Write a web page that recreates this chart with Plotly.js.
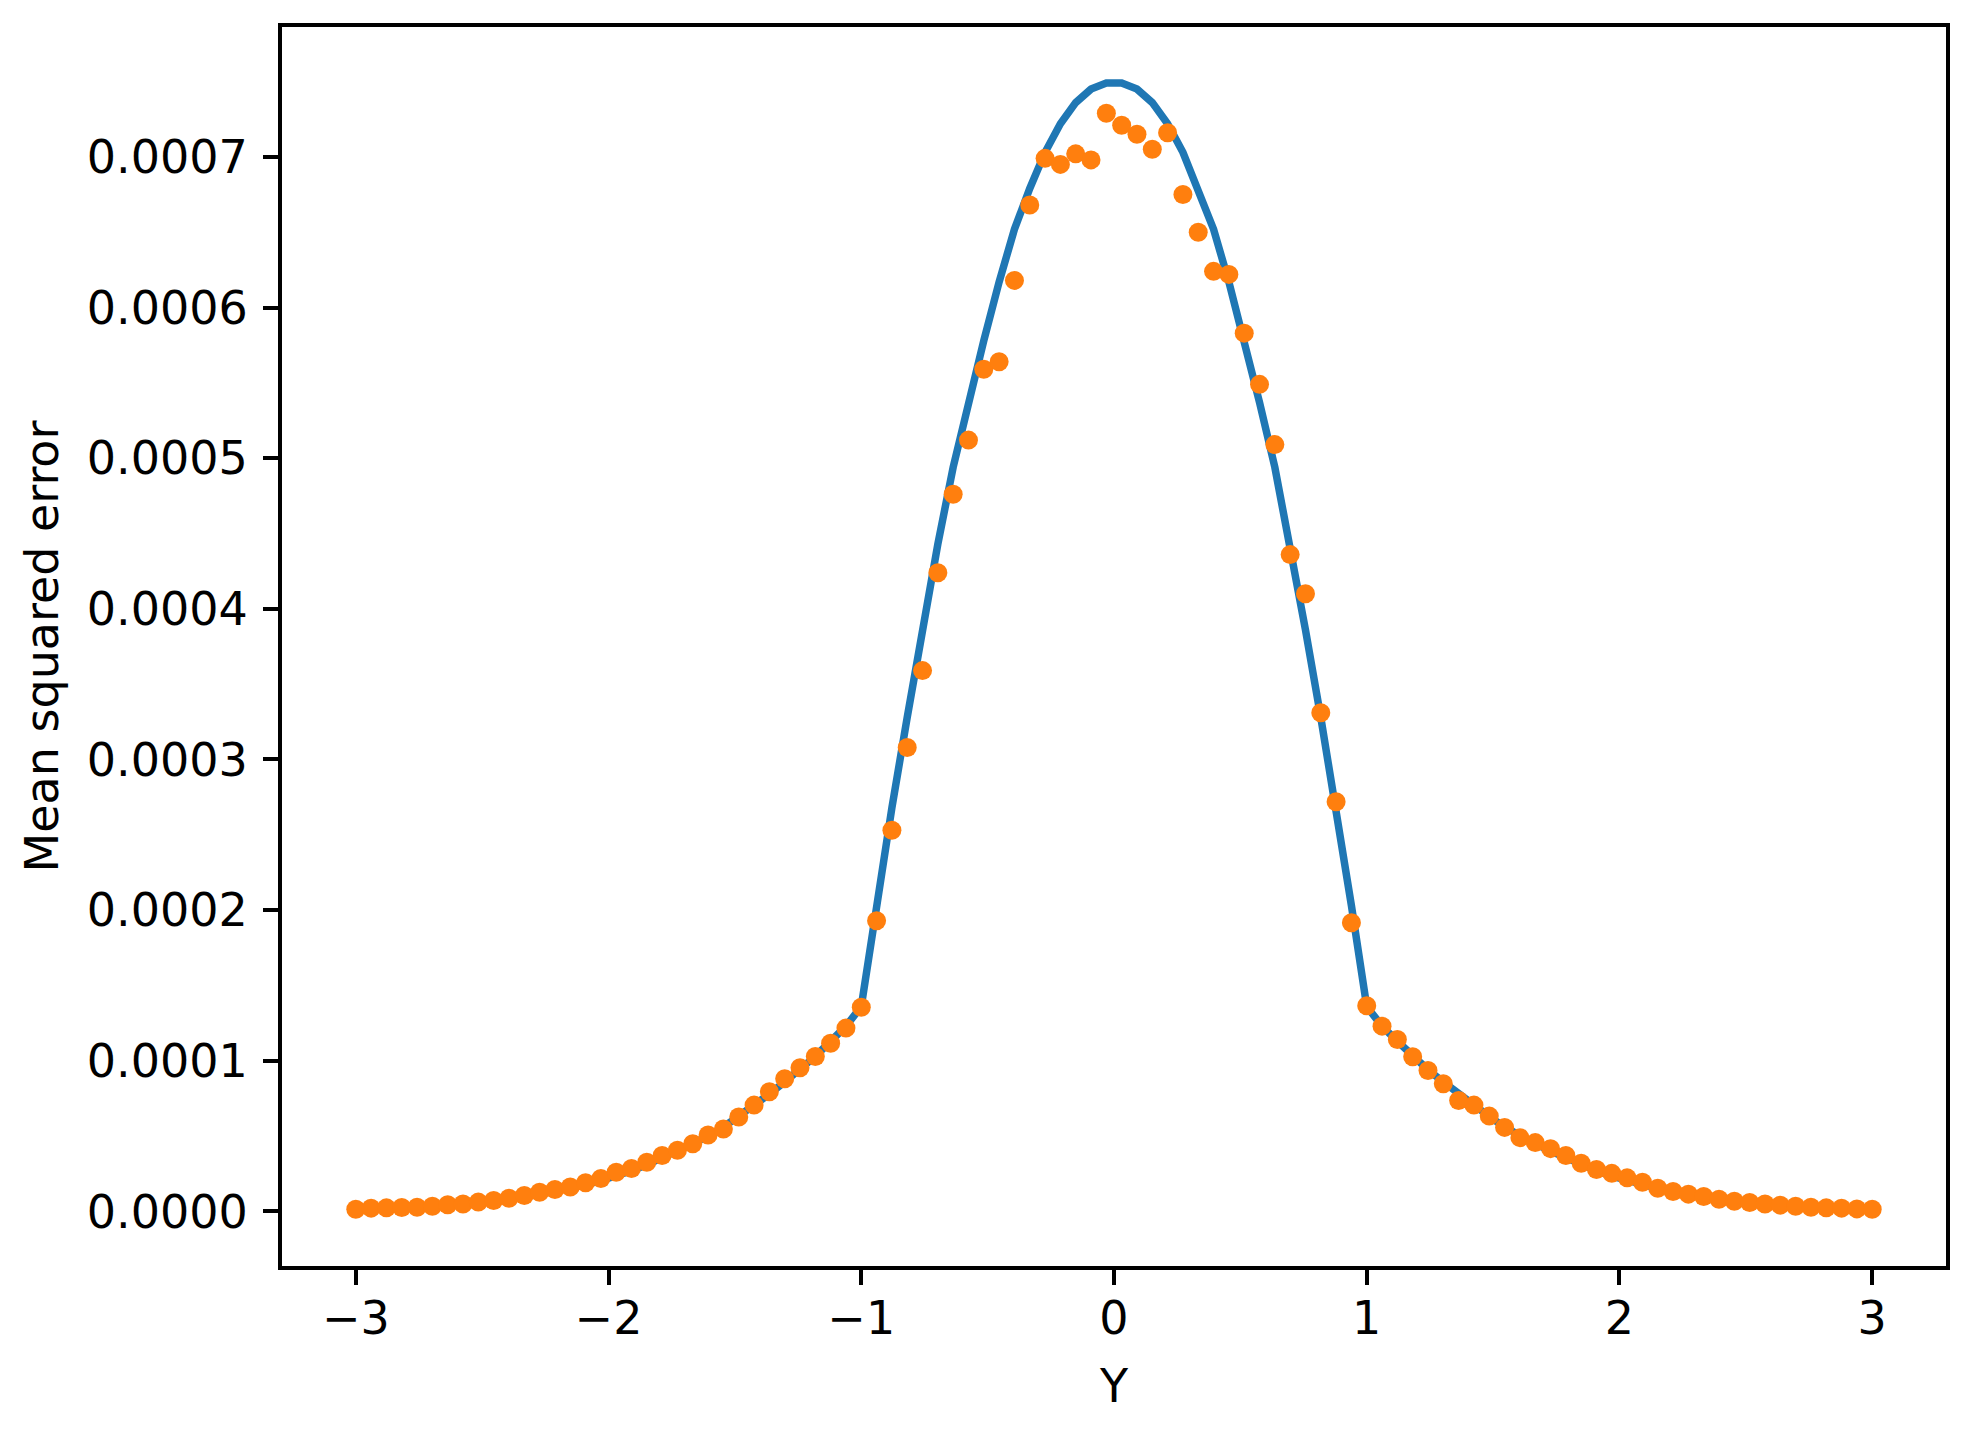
<!DOCTYPE html>
<html>
<head>
<meta charset="utf-8">
<script src="https://cdn.plot.ly/plotly-3.0.1.min.js"></script>
<style>
  html, body { margin: 0; padding: 0; background: #fff; }
  #chart { width: 1979px; height: 1433px; }
</style>
</head>
<body>
<div id="chart"></div>
<script>
// Y grid shared by the curve and the sampled points (100 values from -3 to 3)
const yGrid = [
  -3.0000, -2.9394, -2.8788, -2.8182, -2.7576, -2.6970, -2.6364, -2.5758, -2.5152, -2.4545,
  -2.3939, -2.3333, -2.2727, -2.2121, -2.1515, -2.0909, -2.0303, -1.9697, -1.9091, -1.8485,
  -1.7879, -1.7273, -1.6667, -1.6061, -1.5455, -1.4848, -1.4242, -1.3636, -1.3030, -1.2424,
  -1.1818, -1.1212, -1.0606, -1.0000, -0.9394, -0.8788, -0.8182, -0.7576, -0.6970, -0.6364,
  -0.5758, -0.5152, -0.4545, -0.3939, -0.3333, -0.2727, -0.2121, -0.1515, -0.0909, -0.0303,
   0.0303,  0.0909,  0.1515,  0.2121,  0.2727,  0.3333,  0.3939,  0.4545,  0.5152,  0.5758,
   0.6364,  0.6970,  0.7576,  0.8182,  0.8788,  0.9394,  1.0000,  1.0606,  1.1212,  1.1818,
   1.2424,  1.3030,  1.3636,  1.4242,  1.4848,  1.5455,  1.6061,  1.6667,  1.7273,  1.7879,
   1.8485,  1.9091,  1.9697,  2.0303,  2.0909,  2.1515,  2.2121,  2.2727,  2.3333,  2.3939,
   2.4545,  2.5152,  2.5758,  2.6364,  2.6970,  2.7576,  2.8182,  2.8788,  2.9394,  3.0000
];

// Blue curve (theoretical MSE)
const mseCurve = [
  0.0000016, 0.0000019, 0.0000023, 0.0000027, 0.0000032, 0.0000038, 0.0000045, 0.0000053, 0.0000062, 0.0000073,
  0.0000085, 0.0000099, 0.0000115, 0.0000133, 0.0000154, 0.0000178, 0.0000205, 0.0000235, 0.0000270, 0.0000310,
  0.0000355, 0.0000400, 0.0000450, 0.0000500, 0.0000560, 0.0000630, 0.0000705, 0.0000780, 0.0000860, 0.0000940,
  0.0001030, 0.0001130, 0.0001230, 0.0001360, 0.0002030, 0.0002680, 0.0003280, 0.0003860, 0.0004430, 0.0004940,
  0.0005370, 0.0005780, 0.0006170, 0.0006520, 0.0006790, 0.0007030, 0.0007220, 0.0007360, 0.0007450, 0.0007490,
  0.0007490, 0.0007450, 0.0007360, 0.0007220, 0.0007030, 0.0006790, 0.0006520, 0.0006170, 0.0005780, 0.0005370,
  0.0004940, 0.0004430, 0.0003860, 0.0003280, 0.0002680, 0.0002030, 0.0001360, 0.0001230, 0.0001130, 0.0001030,
  0.0000940, 0.0000860, 0.0000780, 0.0000705, 0.0000630, 0.0000560, 0.0000500, 0.0000450, 0.0000400, 0.0000355,
  0.0000310, 0.0000270, 0.0000235, 0.0000205, 0.0000178, 0.0000154, 0.0000133, 0.0000115, 0.0000099, 0.0000085,
  0.0000073, 0.0000062, 0.0000053, 0.0000045, 0.0000038, 0.0000032, 0.0000027, 0.0000023, 0.0000019, 0.0000016
];

const mseEmpirical = [
  0.0000015, 0.0000022, 0.0000024, 0.0000026, 0.0000028, 0.0000035, 0.0000044, 0.0000050, 0.0000062, 0.0000073,
  0.0000088, 0.0000106, 0.0000128, 0.0000146, 0.0000163, 0.0000190, 0.0000219, 0.0000260, 0.0000285, 0.0000327,
  0.0000371, 0.0000406, 0.0000450, 0.0000508, 0.0000547, 0.0000627, 0.0000706, 0.0000795, 0.0000881, 0.0000954,
  0.0001029, 0.0001117, 0.0001217, 0.0001356, 0.0001930, 0.0002530, 0.0003080, 0.0003590, 0.0004240, 0.0004760,
  0.0005120, 0.0005590, 0.0005640, 0.0006180, 0.0006680, 0.0006990, 0.0006950, 0.0007020, 0.0006980, 0.0007290,
  0.0007210, 0.0007150, 0.0007050, 0.0007160, 0.0006750, 0.0006500, 0.0006240, 0.0006220, 0.0005830, 0.0005490,
  0.0005090, 0.0004360, 0.0004100, 0.0003310, 0.0002720, 0.0001916, 0.0001366, 0.0001230, 0.0001142, 0.0001027,
  0.0000936, 0.0000848, 0.0000737, 0.0000706, 0.0000633, 0.0000558, 0.0000490, 0.0000457, 0.0000417, 0.0000371,
  0.0000320, 0.0000278, 0.0000253, 0.0000223, 0.0000194, 0.0000154, 0.0000132, 0.0000115, 0.0000099, 0.0000081,
  0.0000068, 0.0000060, 0.0000050, 0.0000042, 0.0000035, 0.0000028, 0.0000024, 0.0000022, 0.0000017, 0.0000015
];

const xTickVals = [-3, -2, -1, 0, 1, 2, 3];
const xTickText = ['\u22123', '\u22122', '\u22121', '0', '1', '2', '3'];
const yTickVals = [0, 0.0001, 0.0002, 0.0003, 0.0004, 0.0005, 0.0006, 0.0007];

const curve = {
  x: yGrid,
  y: mseCurve,
  type: 'scatter',
  mode: 'lines',
  line: { color: '#1f77b4', width: 7.5 },
  showlegend: false
};

const dots = {
  x: yGrid,
  y: mseEmpirical,
  type: 'scatter',
  mode: 'markers',
  marker: { color: '#ff7f0e', size: 19, line: { width: 0 } },
  showlegend: false
};

const font = { family: 'DejaVu Sans, sans-serif', size: 46, color: '#000' };

const layout = {
  width: 1979,
  height: 1433,
  margin: { l: 282, r: 33, t: 27, b: 167 },
  paper_bgcolor: '#fff',
  plot_bgcolor: '#fff',
  font: font,
  xaxis: {
    range: [-3.292, 3.292],
    tickvals: xTickVals,
    ticktext: xTickText,
    ticks: 'outside',
    ticklen: 15,
    tickwidth: 4,
    tickcolor: '#000',
    ticklabelstandoff: -6,
    showline: true,
    linewidth: 4,
    linecolor: '#000',
    mirror: true,
    showgrid: false,
    zeroline: false,
    title: { text: 'Y', font: font, standoff: 27 }
  },
  yaxis: {
    range: [-0.0000362, 0.0007862],
    tickvals: yTickVals,
    tickformat: '.4f',
    ticks: 'outside',
    ticklen: 15,
    tickwidth: 4,
    tickcolor: '#000',
    ticklabelstandoff: 6,
    showline: true,
    linewidth: 4,
    linecolor: '#000',
    mirror: true,
    showgrid: false,
    zeroline: false,
    title: { text: 'Mean squared error', font: font, standoff: 15 }
  }
};

Plotly.newPlot('chart', [curve, dots], layout, { staticPlot: true });
</script>
</body>
</html>
